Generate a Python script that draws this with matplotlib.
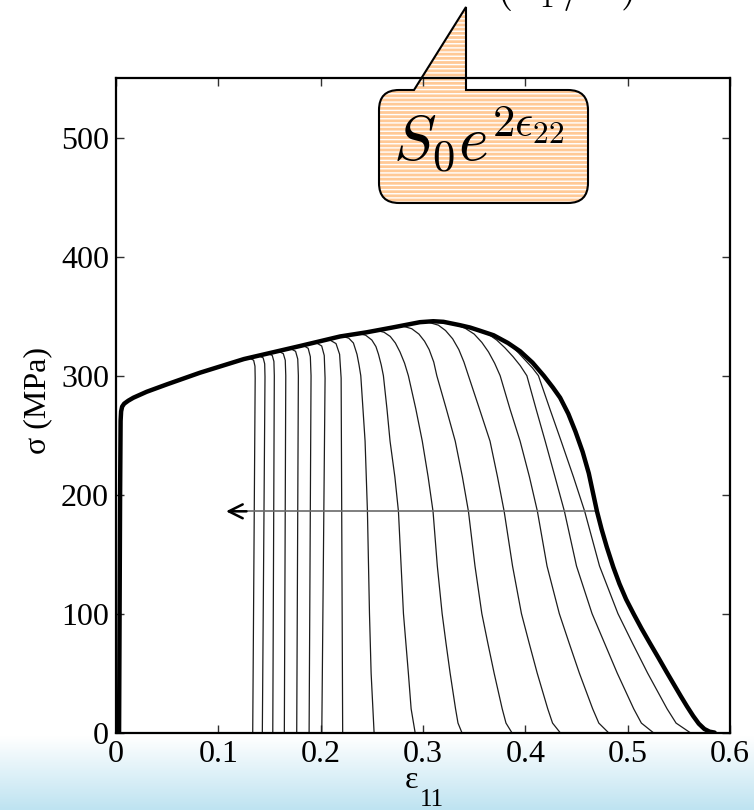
import numpy as np
import matplotlib
matplotlib.use("Agg")
import matplotlib.pyplot as plt
from matplotlib.path import Path
from matplotlib.patches import PathPatch

W, H = 754, 810

plt.rcParams["font.family"] = ["Liberation Serif", "DejaVu Serif"]
plt.rcParams["mathtext.fontset"] = "cm"
plt.rcParams["hatch.linewidth"] = 1.0

# full response (no early localisation)
eps_main = [0, 0.003, 0.004, 0.0045, 0.005, 0.006, 0.008, 0.012, 0.017, 0.03,
            0.05, 0.082, 0.125, 0.155, 0.18, 0.219, 0.245, 0.27, 0.285, 0.297,
            0.31, 0.32, 0.336, 0.346, 0.355, 0.369, 0.383, 0.395, 0.407, 0.418,
            0.427, 0.434, 0.442, 0.449, 0.456, 0.462, 0.466, 0.470, 0.4745,
            0.4796, 0.486, 0.492, 0.4985, 0.506, 0.5135, 0.5215, 0.530, 0.538,
            0.5455, 0.552, 0.558, 0.564, 0.5695, 0.575, 0.580, 0.585]
sig_main = [0, 0, 200, 262, 270, 274, 276.5, 279, 281.5, 286.5,
            292.8, 302.5, 314, 320, 325, 333, 336.5, 340.5, 343, 345,
            345.8, 345.3, 342.5, 340.5, 338, 334, 327.5, 320.5, 311, 300,
            290, 281.5, 268, 253, 236, 218, 202, 186, 171,
            156, 139, 125, 112, 99.5, 87.5, 75.5, 63, 51,
            40, 30.5, 22, 14, 7.5, 3, 0.8, 0]

# responses that leave the main curve earlier
branch_eps = [
    [0.130, 0.1345, 0.1358, 0.1360, 0.1336],
    [0.139, 0.1438, 0.1453, 0.1456, 0.1430],
    [0.148, 0.1527, 0.1543, 0.1547, 0.1532],
    [0.158, 0.1635, 0.1654, 0.1659, 0.1645],
    [0.170, 0.1755, 0.1776, 0.1782, 0.1766],
    [0.182, 0.1878, 0.1899, 0.1906, 0.1887],
    [0.195, 0.2010, 0.2035, 0.2043, 0.2011],
    [0.208, 0.2150, 0.2185, 0.2200, 0.2215],
    [0.222, 0.2275, 0.232, 0.2355, 0.2375, 0.2392, 0.2434, 0.2457, 0.2477,
     0.2493, 0.2522],
    [0.237, 0.244, 0.250, 0.2540, 0.2565, 0.2592, 0.2613, 0.2648, 0.2678,
     0.2725, 0.276, 0.2809, 0.2857, 0.2884, 0.2923],
    [0.255, 0.262, 0.268, 0.273, 0.2775, 0.2820, 0.2857, 0.2930, 0.2993,
     0.3050, 0.3098, 0.3140, 0.3187, 0.3225, 0.3265, 0.3318, 0.3342, 0.338],
    [0.281, 0.289, 0.296, 0.3015, 0.306, 0.3105, 0.3135, 0.3228, 0.3315,
     0.3385, 0.3444, 0.3508, 0.3575, 0.3634, 0.3695, 0.3774, 0.3811, 0.3868],
    [0.305, 0.315, 0.322, 0.329, 0.335, 0.340, 0.3444, 0.3552, 0.3655,
     0.3728, 0.3793, 0.3875, 0.3962, 0.4038, 0.4116, 0.4219, 0.4266, 0.434],
    [0.330, 0.341, 0.350, 0.3575, 0.364, 0.370, 0.3754, 0.385, 0.3949,
     0.4040, 0.4118, 0.4212, 0.4332, 0.4429, 0.4528, 0.4658, 0.4718, 0.4812],
    [0.350, 0.362, 0.372, 0.380, 0.388, 0.395, 0.4015, 0.4105, 0.4194,
     0.429, 0.4382, 0.4500, 0.4652, 0.4775, 0.4898, 0.5059, 0.5134, 0.525],
    [0.365, 0.376, 0.385, 0.393, 0.400, 0.407, 0.4128, 0.4240, 0.4350,
     0.4470, 0.4580, 0.4725, 0.4905, 0.5048, 0.5195, 0.5385, 0.5473, 0.561],
]
branch_sig = [
    [315, 313, 308, 298, 0],
    [317, 315, 310, 299, 0],
    [319, 317, 312, 300, 0],
    [321, 318.5, 313, 300, 0],
    [323, 320.5, 314, 300, 0],
    [326, 323, 316, 300, 0],
    [328, 325, 317, 298, 0],
    [330.5, 327, 318, 298, 0],
    [333, 331.5, 327.5, 318, 309, 300, 245, 186, 100, 50, 0],
    [335.5, 334, 330, 324.5, 318, 309, 300, 272, 245, 215, 186, 100, 50,
     20, 0],
    [338, 336.5, 333, 327.5, 320, 310.5, 300, 272, 245, 215, 186, 140, 100,
     75, 50, 20, 8, 0],
    [341.5, 339.5, 335, 329, 322, 311.5, 300, 272, 245, 215, 186, 140, 100,
     75, 50, 20, 8, 0],
    [345, 342.5, 338, 331, 322, 311.5, 300, 272, 245, 215, 186, 140, 100,
     75, 50, 20, 8, 0],
    [343.5, 340, 335, 328, 320, 310.5, 300, 272, 245, 215, 186, 140, 100,
     75, 50, 20, 8, 0],
    [340, 336, 330, 323.5, 316, 308.5, 300, 272, 245, 215, 186, 140, 100,
     75, 50, 20, 8, 0],
    [336, 331.5, 326, 319.5, 313, 306.5, 300, 272, 245, 215, 186, 140, 100,
     75, 50, 20, 8, 0],
]

arrow_sig = 186
arrow_start = 0.470
arrow_end = 0.1075

xticks = [0, 0.1, 0.2, 0.3, 0.4, 0.5, 0.6]
xtick_labels = ["0", "0.1", "0.2", "0.3", "0.4", "0.5", "0.6"]
yticks = [0, 100, 200, 300, 400, 500]
ytick_labels = ["0", "100", "200", "300", "400", "500"]


def fig_xy(x, y):
    return x / W, 1 - y / H


fig = plt.figure(figsize=(W / 100, H / 100), dpi=100)

# pale blue band along the bottom
bg = fig.add_axes([0, 0, 1, 74 / H])
top_c = np.array([1.0, 1.0, 1.0])
bot_c = np.array([190, 227, 241]) / 255
t = np.linspace(0, 1, 100)[:, None]
grad = top_c * (1 - t) + bot_c * t
bg.imshow(grad[:, None, :], aspect="auto", extent=[0, 1, 0, 1])
bg.axis("off")

x0, y0 = fig_xy(116, 732.6)
ax = fig.add_axes([x0, y0, 614 / W, 654.3 / H])

for e, s in zip(branch_eps, branch_sig):
    ax.plot(e, s, color="#1c1c1c", lw=0.9, zorder=2)
ax.plot(eps_main, sig_main, color="black", lw=3.2, solid_capstyle="round",
        solid_joinstyle="round", zorder=3)

ax.plot([arrow_start, arrow_end + 0.004], [arrow_sig, arrow_sig],
        color="#6a6a6a", lw=1.2, zorder=2)
ax.annotate("", xy=(arrow_end, arrow_sig), xytext=(arrow_end + 0.02, arrow_sig),
            arrowprops=dict(arrowstyle="->,head_length=1.0,head_width=0.5",
                            color="black", lw=1.8, shrinkA=0, shrinkB=0),
            zorder=3)

ax.set_xlim(0, 0.6)
ax.set_ylim(0, 550)
ax.set_xticks(xticks)
ax.set_xticklabels(xtick_labels)
ax.set_yticks(yticks)
ax.set_yticklabels(ytick_labels)
ax.tick_params(direction="in", length=6, width=1, top=True, right=True,
               labelsize=23, pad=5, color="#303030")
for sp in ax.spines.values():
    sp.set_linewidth(1.6)

fig.text(*fig_xy(38, 400), "σ (MPa)", rotation=90, ha="center", va="center",
         fontsize=23)
fig.text(*fig_xy(412, 781), "ε", ha="center", va="center", fontsize=23)
fig.text(*fig_xy(432, 800), "11", ha="center", va="center", fontsize=18)

# speech-bubble callout
r = 20
L, R, T, B = 379, 588, 90, 203
tip = (466, 7)
verts = [tip, (466, T), (R - r, T), (R, T), (R, T + r), (R, B - r), (R, B),
         (R - r, B), (L + r, B), (L, B), (L, B - r), (L, T + r), (L, T),
         (L + r, T), (414, T), tip]
codes = [Path.MOVETO, Path.LINETO, Path.LINETO, Path.CURVE3, Path.CURVE3,
         Path.LINETO, Path.CURVE3, Path.CURVE3, Path.LINETO, Path.CURVE3,
         Path.CURVE3, Path.LINETO, Path.CURVE3, Path.CURVE3, Path.LINETO,
         Path.CLOSEPOLY]
bubble = Path([fig_xy(*v) for v in verts], codes)
ax.add_patch(PathPatch(bubble, facecolor="#FFC996", edgecolor="white", lw=0,
                       hatch="----", transform=fig.transFigure, clip_on=False,
                       zorder=1.2))
ax.add_patch(PathPatch(bubble, facecolor="none", edgecolor="black", lw=1.5,
                       transform=fig.transFigure, clip_on=False, zorder=1.3))
ax.text(*fig_xy(479, 140), r"$S_0e^{2\epsilon_{22}}$", transform=fig.transFigure,
        ha="center", va="center", fontsize=46, zorder=4)

# foot of the heading formula above the plot
fig.text(*fig_xy(565, 0), r"$(\;\epsilon_1\,/\;\epsilon\;)$", ha="center",
         va="baseline", fontsize=30)

fig.savefig("out.png", dpi=100)
